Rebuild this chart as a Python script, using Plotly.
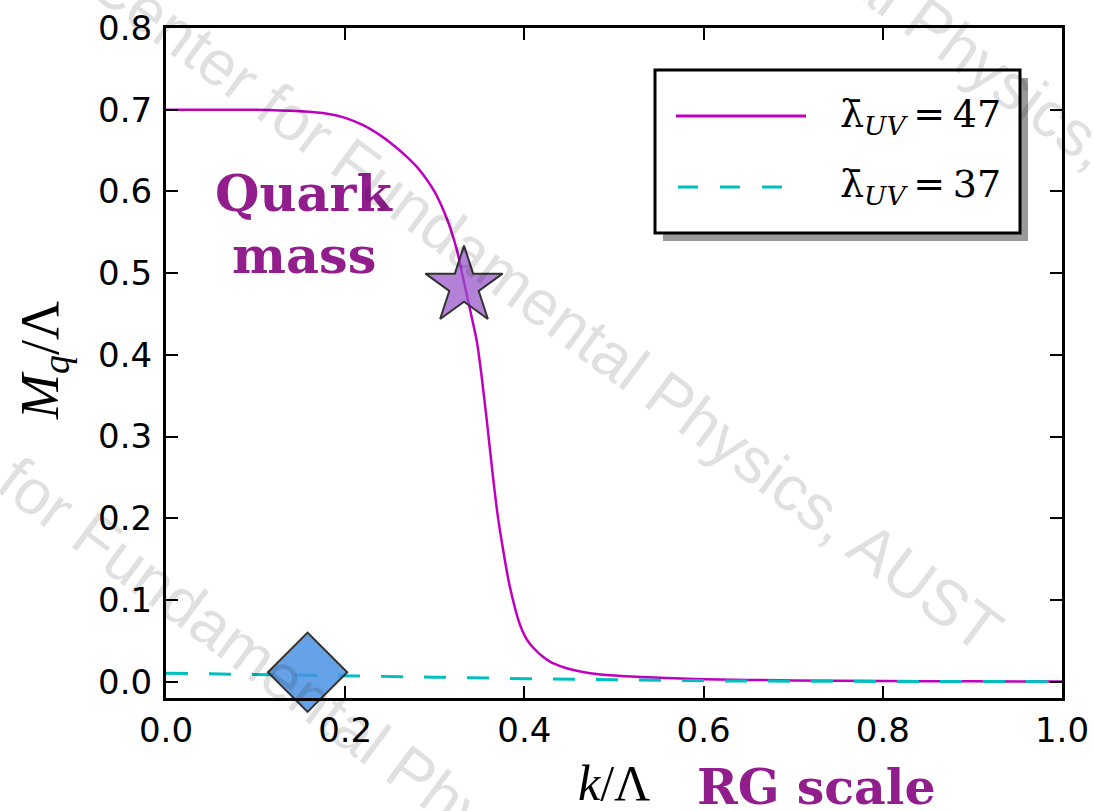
import plotly.graph_objects as go

# ---------------- data ----------------
k_47 = [0.0, 0.05, 0.10, 0.15, 0.18, 0.20, 0.22, 0.24, 0.25, 0.26, 0.27, 0.28,
        0.29, 0.30, 0.31, 0.317, 0.325, 0.332, 0.34, 0.347, 0.352, 0.358,
        0.365, 0.37, 0.376, 0.383, 0.39, 0.395, 0.40, 0.405, 0.41, 0.42, 0.43,
        0.44, 0.45, 0.47, 0.50, 0.53, 0.60, 0.70, 0.80, 0.90, 1.0]
m_47 = [0.700, 0.700, 0.700, 0.698, 0.695, 0.690, 0.681, 0.668, 0.660, 0.651,
        0.641, 0.630, 0.616, 0.599, 0.576, 0.556, 0.527, 0.492, 0.452, 0.416,
        0.376, 0.320, 0.250, 0.205, 0.163, 0.120, 0.088, 0.070, 0.057, 0.048,
        0.0415, 0.031, 0.0235, 0.019, 0.0155, 0.011, 0.0075, 0.0057, 0.003,
        0.0015, 0.0008, 0.0004, 0.0002]

k_37 = [0.0, 0.1, 0.2, 0.3, 0.4, 0.5, 0.6, 0.7, 0.8, 1.0]
m_37 = [0.0103, 0.0090, 0.0072, 0.0055, 0.0037, 0.0022, 0.0011, 0.0005, 0.0002, 0.0]

star_k = [0.3326]
star_m = [0.484]
diamond_k = [0.158]
diamond_m = [0.0115]

x_ticks = [0.0, 0.2, 0.4, 0.6, 0.8, 1.0]
x_tick_labels = ["0.0", "0.2", "0.4", "0.6", "0.8", "1.0"]
y_ticks = [0.0, 0.1, 0.2, 0.3, 0.4, 0.5, 0.6, 0.7, 0.8]
y_tick_labels = ["0.0", "0.1", "0.2", "0.3", "0.4", "0.5", "0.6", "0.7", "0.8"]

legend_labels = ["λ̄<sub><i>UV</i></sub>\u2009=\u200947", "λ̄<sub><i>UV</i></sub>\u2009=\u200937"]
watermark = "Center for Fundamental Physics, AUST"

# ---------------- layout helpers ----------------
W, H = 1094, 811
L, R, T, B = 166, 32, 28, 113


def px(x):
    return (x - L) / (W - L - R)


def py(y):
    return (H - B - y) / (H - T - B)


MAGENTA = "#BF00BF"
CYAN = "#00BFBF"
PURPLE_TXT = "#921E8E"

fig = go.Figure()

fig.add_trace(go.Scatter(x=k_47, y=m_47, mode="lines", line_shape="spline",
                         line=dict(color=MAGENTA, width=2.5, smoothing=0.6),
                         showlegend=False))
fig.add_trace(go.Scatter(x=k_37, y=m_37, mode="lines",
                         line=dict(color=CYAN, width=3, dash="22px,21px"),
                         showlegend=False))
fig.add_trace(go.Scatter(x=star_k, y=star_m, mode="markers", cliponaxis=False,
                         marker=dict(symbol="star", size=58,
                                     color="rgba(150,80,200,0.72)",
                                     line=dict(color="#333333", width=2)),
                         showlegend=False))
fig.add_trace(go.Scatter(x=diamond_k, y=diamond_m, mode="markers", cliponaxis=False,
                         marker=dict(symbol="diamond", size=61,
                                     color="rgba(74,144,226,0.85)",
                                     line=dict(color="#333333", width=2)),
                         showlegend=False))

axis_common = dict(showline=True, linewidth=3, linecolor="black", mirror="ticks",
                   ticks="inside", ticklen=12, tickwidth=1.5, tickcolor="black",
                   showgrid=False, zeroline=False, automargin=False,
                   tickfont=dict(family="DejaVu Sans", size=34, color="black"))

fig.update_xaxes(range=[0, 1], tickmode="array", tickvals=x_ticks,
                 ticktext=x_tick_labels, ticklabelstandoff=0, **axis_common)
fig.update_yaxes(range=[-0.02, 0.8], tickmode="array", tickvals=y_ticks,
                 ticktext=y_tick_labels, ticklabelstandoff=4, **axis_common)

shapes = []
# legend shadow + box
shapes.append(dict(type="rect", xref="paper", yref="paper",
                   x0=px(663), x1=px(1028), y0=py(241), y1=py(78),
                   fillcolor="#9a9a9a", line=dict(width=0), layer="above"))
shapes.append(dict(type="rect", xref="paper", yref="paper",
                   x0=px(655), x1=px(1020), y0=py(233), y1=py(70),
                   fillcolor="white", line=dict(color="black", width=3), layer="above"))
shapes.append(dict(type="line", xref="paper", yref="paper",
                   x0=px(676), x1=px(806), y0=py(116), y1=py(116),
                   line=dict(color=MAGENTA, width=3), layer="above"))
shapes.append(dict(type="line", xref="paper", yref="paper",
                   x0=px(678), x1=px(784), y0=py(187), y1=py(187),
                   line=dict(color=CYAN, width=3, dash="20px,22px"), layer="above"))

annotations = []
for lab, yy in zip(legend_labels, [116, 187]):
    annotations.append(dict(text=lab, xref="paper", yref="paper", x=px(838), y=py(yy),
                            xanchor="left", yanchor="middle", showarrow=False,
                            font=dict(family="DejaVu Serif", size=38, color="black")))

# axis titles
annotations.append(dict(text="<i>M</i><sub><i>q</i></sub>/Λ", xref="paper", yref="paper",
                        x=px(43), y=py(360), xanchor="center", yanchor="middle",
                        textangle=-90, showarrow=False,
                        font=dict(family="Liberation Serif", size=54, color="black")))
annotations.append(dict(text="<i>k</i>/Λ", xref="paper", yref="paper",
                        x=px(614), y=py(783), xanchor="center", yanchor="middle",
                        showarrow=False,
                        font=dict(family="Liberation Serif", size=50, color="black")))
annotations.append(dict(text="<b>RG scale</b>", xref="paper", yref="paper",
                        x=px(816), y=py(787), xanchor="center", yanchor="middle",
                        showarrow=False,
                        font=dict(family="DejaVu Serif", size=49, color=PURPLE_TXT)))
annotations.append(dict(text="<b>Quark</b>", xref="paper", yref="paper",
                        x=px(304), y=py(193), xanchor="center", yanchor="middle",
                        showarrow=False,
                        font=dict(family="DejaVu Serif", size=51, color=PURPLE_TXT)))
annotations.append(dict(text="<b>mass</b>", xref="paper", yref="paper",
                        x=px(304), y=py(255), xanchor="center", yanchor="middle",
                        showarrow=False,
                        font=dict(family="DejaVu Serif", size=51, color=PURPLE_TXT)))

# watermark lines
for cx, cy in [(545, 305), (286, 679), (804, -69)]:
    annotations.append(dict(text=watermark, xref="paper", yref="paper",
                            x=px(cx), y=py(cy), xanchor="center", yanchor="middle",
                            textangle=36.6, showarrow=False,
                            font=dict(family="Liberation Sans", size=64,
                                      color="rgba(0,0,0,0.12)")))

fig.update_layout(width=W, height=H, margin=dict(l=L, r=R, t=T, b=B),
                  paper_bgcolor="white", plot_bgcolor="white",
                  shapes=shapes, annotations=annotations, showlegend=False)

fig.write_html("out.html")
